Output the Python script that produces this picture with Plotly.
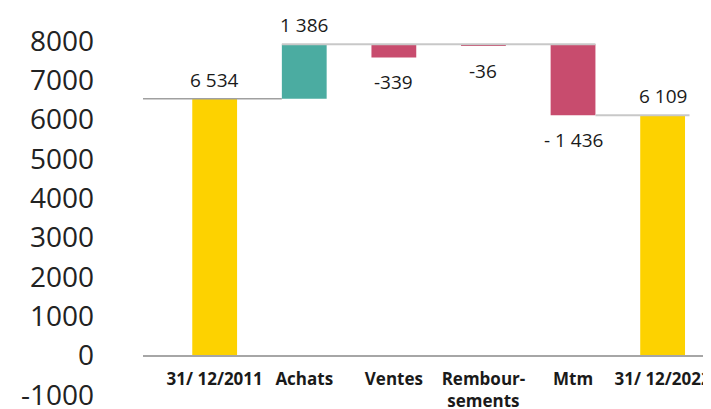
import plotly.graph_objects as go

categories = ["31/ 12/2011", "Achats", "Ventes", "Rembour-<br>sements", "Mtm", "31/ 12/2022"]
values = [6534, 1386, -339, -36, -1436, 6109]
value_labels = ["6 534", "1 386", "-339", "-36", "- 1 436", "6 109"]
# drawn extent of each bar
bar_base = [0, 6534, 7920, 7920, 7920, 0]
bar_height = [6534, 1386, -339, -36, -1811, 6109]
bar_colors = ["#FDD200", "#4BACA1", "#C84C6E", "#C84C6E", "#C84C6E", "#FDD200"]
y_ticks = [-1000, 0, 1000, 2000, 3000, 4000, 5000, 6000, 7000, 8000]
y_tick_labels = ["-1000", "0", "1000", "2000", "3000", "4000", "5000", "6000", "7000", "8000"]

fig = go.Figure()
fig.add_trace(go.Bar(
    x=categories, y=bar_height, base=bar_base, width=0.5,
    marker=dict(color=bar_colors, line=dict(width=0)),
    hoverinfo="skip",
))

# data labels
for i, (lab, b, h) in enumerate(zip(value_labels, bar_base, bar_height)):
    top = b + h
    ys = 19 if h >= 0 else -25
    fig.add_annotation(x=i, y=top, text=lab, showarrow=False,
                       yshift=ys, xanchor="center", yanchor="middle",
                       font=dict(family="Open Sans", size=19, color="#1a1a1a"))

# connector lines
start_level = bar_base[0] + bar_height[0]
peak_level = bar_base[1] + bar_height[1]
end_level = bar_height[5]
fig.add_shape(type="line", xref="x", yref="y", x0=-0.8, x1=1 - 0.25, y0=start_level, y1=start_level,
              line=dict(color="#a0a0a0", width=1.5))
fig.add_shape(type="line", xref="x", yref="y", x0=1 - 0.25, x1=4 + 0.25, y0=peak_level, y1=peak_level,
              line=dict(color="#c8c8c8", width=2))
fig.add_shape(type="line", xref="x", yref="y", x0=4 + 0.25, x1=5 + 0.3, y0=end_level, y1=end_level,
              line=dict(color="#c8c8c8", width=2))

fig.update_layout(
    width=703, height=401,
    margin=dict(l=135, r=0, t=33, b=14, autoexpand=False),
    paper_bgcolor="white", plot_bgcolor="white",
    showlegend=False, bargap=0.5,
    xaxis=dict(
        type="category", range=[-0.8, 5.54],
        anchor="free", position=1000 / 9000, automargin=False,
        showline=True, linecolor="#a6a6a6", linewidth=1.5,
        showgrid=False, zeroline=False, ticks="",
        tickfont=dict(family="Open Sans", size=17, color="#1a1a1a", weight="bold"),
        ticklabelstandoff=8, ticklabeloverflow="allow",
    ),
    yaxis=dict(
        range=[-1001, 8000], tickvals=y_ticks, ticktext=y_tick_labels, automargin=False,
        showgrid=False, zeroline=False, showline=False, ticks="",
        tickfont=dict(family="Open Sans", size=28, color="#222222"),
        ticklabelstandoff=48, ticklabeloverflow="allow",
    ),
)

fig.write_html("out.html")
